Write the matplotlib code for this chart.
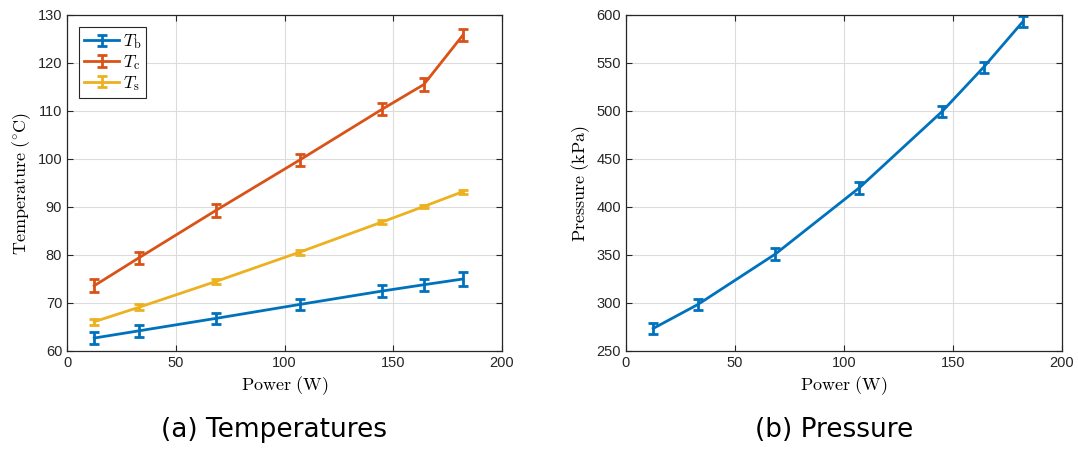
import matplotlib
matplotlib.use("Agg")
import matplotlib.pyplot as plt
from matplotlib.container import ErrorbarContainer
from matplotlib.legend_handler import HandlerErrorbar

# data
power = [12.5, 33, 68.5, 107, 145, 164, 182]
t_b = [62.7, 64.2, 66.8, 69.7, 72.5, 73.8, 75.0]
t_b_err = [1.3, 1.2, 1.2, 1.2, 1.2, 1.3, 1.4]
t_c = [73.6, 79.4, 89.3, 99.8, 110.4, 115.5, 125.8]
t_c_err = [1.3, 1.3, 1.3, 1.3, 1.3, 1.3, 1.3]
t_s = [66.1, 69.1, 74.5, 80.6, 86.9, 90.1, 93.2]
t_s_err = [0.6, 0.6, 0.5, 0.5, 0.4, 0.4, 0.4]
pressure = [273.5, 298.5, 351, 420, 499.5, 545.5, 593]
pressure_err = [6, 6, 6, 6, 6, 6, 6]

BLUE = "#0072BD"
ORANGE = "#D95319"
YELLOW = "#EDB120"

plt.rcParams["mathtext.fontset"] = "cm"
plt.rcParams["font.family"] = ["Liberation Sans", "DejaVu Sans"]
plt.rcParams["axes.unicode_minus"] = False

fig = plt.figure(figsize=(10.78, 4.5), dpi=100)
ax1 = fig.add_axes([0.0622, 0.22, 0.4035, 0.7467])
ax2 = fig.add_axes([0.5807, 0.22, 0.4045, 0.7467])


def style_axes(ax):
    ax.grid(True, color="#dcdcdc", linewidth=0.8)
    ax.set_axisbelow(True)
    ax.tick_params(direction="in", top=True, right=True, length=4,
                   labelsize=10.5, color="#262626", labelcolor="#262626")
    for s in ax.spines.values():
        s.set_color("#262626")
        s.set_linewidth(0.9)
    ax.set_xlim(0, 200)
    ax.set_xticks([0, 50, 100, 150, 200])
    ax.set_xlabel(r"$\mathrm{Power\ (W)}$", fontsize=13, labelpad=3)


def draw(ax, y, err, color, label=None):
    ax.errorbar(power, y, yerr=err, color=color, linewidth=2, elinewidth=2,
                capsize=3.5, capthick=2, label=label)


draw(ax1, t_b, t_b_err, BLUE, r"$T_{\mathrm{b}}$")
draw(ax1, t_c, t_c_err, ORANGE, r"$T_{\mathrm{c}}$")
draw(ax1, t_s, t_s_err, YELLOW, r"$T_{\mathrm{s}}$")
style_axes(ax1)
ax1.set_ylim(60, 130)
ax1.set_yticks(range(60, 131, 10))
ax1.set_ylabel(r"$\mathrm{Temperature\ (^{\circ}C)}$", fontsize=13, labelpad=3)
leg = ax1.legend(loc="upper left", fontsize=12.5, fancybox=False, framealpha=1,
                 edgecolor="#262626", handlelength=2.0, borderpad=0.3,
                 labelspacing=0.1, handletextpad=0.2, borderaxespad=0.7,
                 handler_map={ErrorbarContainer: HandlerErrorbar(yerr_size=0.33)})
leg.get_frame().set_linewidth(0.8)

draw(ax2, pressure, pressure_err, BLUE)
style_axes(ax2)
ax2.set_ylim(250, 600)
ax2.set_yticks(range(250, 601, 50))
ax2.set_ylabel(r"$\mathrm{Pressure\ (kPa)}$", fontsize=13, labelpad=3)

fig.text(0.254, 0.028, "(a) Temperatures", fontsize=19, ha="center",
         family=["DejaVu Sans"])
fig.text(0.774, 0.028, "(b) Pressure", fontsize=19, ha="center",
         family=["DejaVu Sans"])

fig.savefig("out.png", dpi=100, facecolor="white")
